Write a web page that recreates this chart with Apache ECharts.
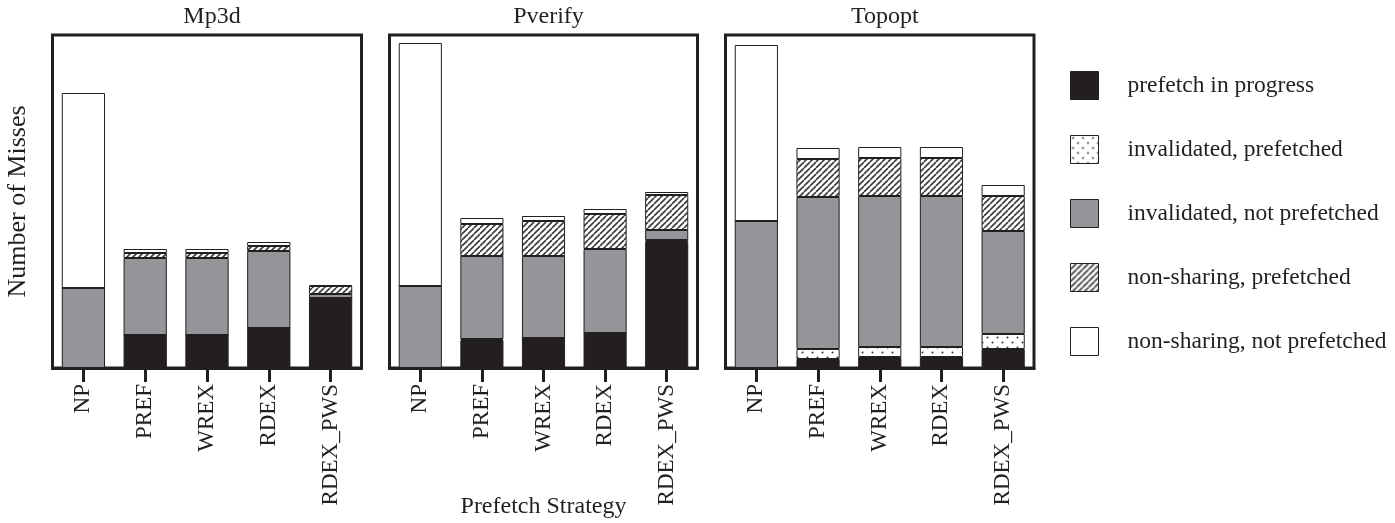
<!DOCTYPE html>
<html>
<head>
<meta charset="utf-8">
<script src="https://cdn.jsdelivr.net/npm/echarts@6/dist/echarts.min.js"></script>
<style>
  html, body { margin: 0; padding: 0; background: #fff; }
  #chart { width: 1395px; height: 523px; }
</style>
</head>
<body>
<div id="chart"></div>
<script>
const categories = ['NP', 'PREF', 'WREX', 'RDEX', 'RDEX_PWS']
const panelTitles = ['Mp3d', 'Pverify', 'Topopt']
const seriesNames = [
  'prefetch in progress',
  'invalidated, prefetched',
  'invalidated, not prefetched',
  'non-sharing, prefetched',
  'non-sharing, not prefetched'
]

// Mp3d
const mp3dInProgress = [0, 33, 33, 40, 70]
const mp3dInvPref = [0, 0, 0, 0, 0]
const mp3dInvNotPref = [80, 77, 77, 77, 4]
const mp3dNsPref = [0, 5, 5, 5, 8]
const mp3dNsNotPref = [195, 4, 4, 4, 1]

// Pverify
const pverifyInProgress = [0, 28, 30, 35, 126]
const pverifyInvPref = [0, 1, 0, 0, 2]
const pverifyInvNotPref = [82, 83, 82, 84, 10]
const pverifyNsPref = [0, 32, 35, 35, 35]
const pverifyNsNotPref = [243, 6, 5, 5, 3]

// Topopt
const topoptInProgress = [0, 9, 11, 11, 19]
const topoptInvPref = [0, 10, 10, 10, 15]
const topoptInvNotPref = [147, 152, 151, 151, 103]
const topoptNsPref = [0, 38, 38, 38, 35]
const topoptNsNotPref = [176, 11, 11, 11, 11]

const panels = [
  [mp3dInProgress, mp3dInvPref, mp3dInvNotPref, mp3dNsPref, mp3dNsNotPref],
  [pverifyInProgress, pverifyInvPref, pverifyInvNotPref, pverifyNsPref, pverifyNsNotPref],
  [topoptInProgress, topoptInvPref, topoptInvNotPref, topoptNsPref, topoptNsNotPref]
]

const INK = '#231f20'
const GRAY = '#939598'
const FONT = '"Liberation Serif", "DejaVu Serif", serif'

// fill patterns
function makeHatch() {
  const c = document.createElement('canvas')
  c.width = 6; c.height = 6
  const ctx = c.getContext('2d')
  ctx.fillStyle = '#fff'
  ctx.fillRect(0, 0, 6, 6)
  ctx.strokeStyle = '#3a3a3a'
  ctx.lineWidth = 1.6
  ctx.beginPath()
  for (let k = -6; k <= 12; k += 6) {
    ctx.moveTo(k, 6)
    ctx.lineTo(k + 6, 0)
  }
  ctx.stroke()
  return c
}

function makeDots() {
  const c = document.createElement('canvas')
  c.width = 10; c.height = 10
  const ctx = c.getContext('2d')
  ctx.fillStyle = '#fff'
  ctx.fillRect(0, 0, 10, 10)
  ctx.fillStyle = '#333'
  ctx.beginPath(); ctx.arc(2.5, 2.5, 1, 0, Math.PI * 2); ctx.fill()
  ctx.beginPath(); ctx.arc(7.5, 7.5, 1, 0, Math.PI * 2); ctx.fill()
  return c
}

const fills = [
  INK,
  { image: makeDots(), repeat: 'repeat' },
  GRAY,
  { image: makeHatch(), repeat: 'repeat' },
  '#ffffff'
]

const gridPos = [
  { left: 52.5, width: 309 },
  { left: 389.5, width: 308 },
  { left: 725.5, width: 308.5 }
]

const grids = gridPos.map(g => ({
  left: g.left,
  width: g.width,
  top: 35,
  height: 333,
  show: true,
  borderWidth: 3,
  borderColor: INK,
  backgroundColor: 'transparent',
  outerBoundsMode: 'none',
  containLabel: false
}))

const xAxes = gridPos.map((g, i) => ({
  type: 'category',
  gridIndex: i,
  data: categories,
  name: i === 1 ? 'Prefetch Strategy' : '',
  nameLocation: 'middle',
  nameGap: 127,
  nameMoveOverlap: false,
  nameTextStyle: { fontFamily: FONT, fontSize: 24, color: INK },
  axisLine: { show: true, lineStyle: { color: INK, width: 3 } },
  axisTick: { show: true, alignWithLabel: true, length: 14, lineStyle: { color: INK, width: 3 } },
  axisLabel: { rotate: 90, margin: 16, fontFamily: FONT, fontSize: 23, color: INK }
}))

const yAxes = gridPos.map((g, i) => ({
  type: 'value',
  gridIndex: i,
  min: 0,
  max: 333,
  name: i === 0 ? 'Number of Misses' : '',
  nameLocation: 'middle',
  nameGap: 21,
  nameMoveOverlap: false,
  nameTextStyle: { fontFamily: FONT, fontSize: 26, color: INK },
  axisLine: { show: false },
  axisTick: { show: false },
  axisLabel: { show: false },
  splitLine: { show: false }
}))

const series = []
panels.forEach((panel, p) => {
  panel.forEach((values, s) => {
    series.push({
      name: seriesNames[s],
      type: 'bar',
      stack: 'panel' + p,
      xAxisIndex: p,
      yAxisIndex: p,
      barWidth: '70%',
      data: values,
      itemStyle: {
        color: fills[s],
        borderColor: INK,
        borderWidth: 1
      },
      emphasis: { disabled: true }
    })
  })
})

const chart = echarts.init(document.getElementById('chart'), null, { renderer: 'canvas' })

chart.setOption({
  animation: false,
  backgroundColor: '#fff',
  title: panelTitles.map((t, i) => ({
    text: t,
    left: gridPos[i].left + gridPos[i].width / 2,
    top: 0,
    textAlign: 'center',
    textStyle: { fontFamily: FONT, fontSize: 24, fontWeight: 'normal', color: INK }
  })),
  legend: {
    data: seriesNames,
    orient: 'vertical',
    left: 1065,
    top: 66,
    itemWidth: 28,
    itemHeight: 28,
    itemGap: 35,
    icon: 'rect',
    selectedMode: false,
    itemStyle: { borderColor: INK, borderWidth: 1 },
    textStyle: { fontFamily: FONT, fontSize: 23.5, color: INK, padding: [0, 0, 0, 24] }
  },
  grid: grids,
  xAxis: xAxes,
  yAxis: yAxes,
  series: series
})
</script>
</body>
</html>
